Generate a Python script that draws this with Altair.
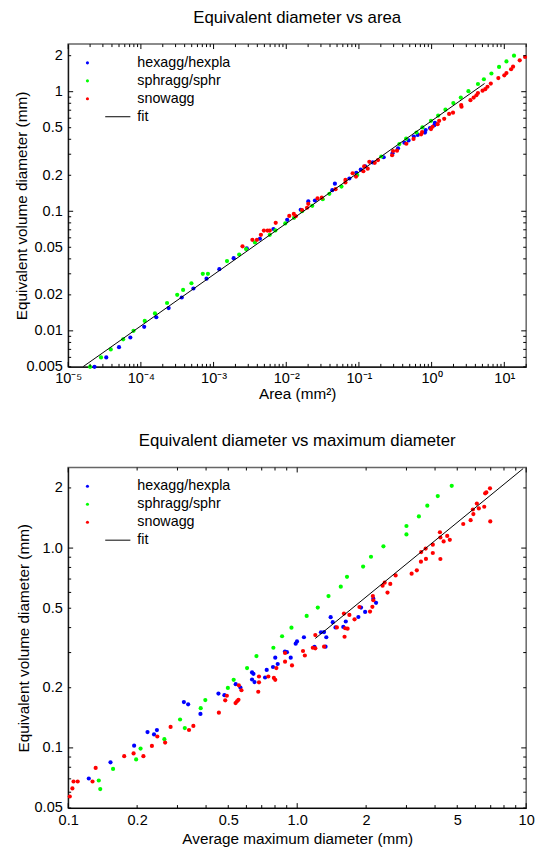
import altair as alt
import pandas as pd

FONT = "Liberation Sans"
SERIES = ["hexagg/hexpla", "sphragg/sphr", "snowagg"]
COLORS = ["#0000ff", "#00ff00", "#ff0000"]

# ---------------- top panel: area (mm^2) -> equivalent volume diameter (mm)
hex_area = [2.30e-5, 3.34e-5, 5.00e-5, 7.16e-5, 1.11e-4, 1.63e-4, 2.41e-4, 3.65e-4, 5.28e-4,
            8.00e-4, 1.20e-3, 1.89e-3, 2.86e-3, 4.34e-3, 6.66e-3, 1.03e-2, 1.58e-2, 2.01e-2,
            2.48e-2, 4.30e-2, 4.67e-2, 7.39e-2, 9.20e-2, 0.106, 0.122, 0.155, 0.219, 0.290,
            0.345, 0.422, 0.482, 0.569, 0.644, 0.81, 0.828, 0.950, 1.09, 1.11]
hex_deq_a = [0.0050, 0.0060, 0.0073, 0.0088, 0.0108, 0.0130, 0.0155, 0.0190, 0.0226,
             0.0273, 0.0328, 0.0405, 0.0490, 0.0589, 0.0711, 0.0848, 0.103, 0.121,
             0.123, 0.150, 0.170, 0.188, 0.210, 0.223, 0.237, 0.256, 0.283, 0.306,
             0.336, 0.374, 0.391, 0.422, 0.435, 0.455, 0.478, 0.497, 0.525, 0.550]
sph_area = [2.0e-5, 2.83e-5, 3.85e-5, 5.70e-5, 7.92e-5, 1.13e-4, 1.56e-4, 2.29e-4, 3.16e-4,
            3.81e-4, 4.96e-4, 7.11e-4, 8.36e-4, 1.53e-3, 2.25e-3, 2.80e-3, 3.71e-3, 5.93e-3,
            7.09e-3, 9.69e-3, 1.28e-2, 1.65e-2, 2.28e-2, 3.18e-2, 3.92e-2, 5.75e-2, 9.49e-2,
            0.203, 0.360, 0.446, 0.619, 0.747, 0.980, 1.23, 1.55, 1.99, 2.52, 3.21, 4.34,
            5.24, 6.65, 8.47, 10.7, 13.6]
sph_deq_a = [0.0050, 0.0060, 0.0070, 0.0085, 0.0100, 0.0121, 0.0140, 0.0171, 0.0200,
             0.0220, 0.0250, 0.0300, 0.0300, 0.0383, 0.0435, 0.0483, 0.0549, 0.0635,
             0.0692, 0.0791, 0.0881, 0.100, 0.111, 0.126, 0.140, 0.161, 0.201,
             0.287, 0.365, 0.405, 0.456, 0.503, 0.571, 0.631, 0.707, 0.803, 0.893, 1.01, 1.16,
             1.27, 1.42, 1.61, 1.79, 2.00]
snow_area = [2.50e-3, 3.42e-3, 3.95e-3, 4.48e-3, 4.92e-3, 5.52e-3, 5.93e-3, 7.16e-3, 1.10e-2,
             1.27e-2, 1.35e-2, 1.65e-2, 1.93e-2, 2.01e-2, 2.69e-2, 3.08e-2, 4.77e-2, 6.52e-2,
             6.52e-2, 8.19e-2, 9.12e-2, 0.115, 0.118, 0.132, 0.139, 0.165, 0.183, 0.286, 0.295,
             0.334, 0.449, 0.564, 0.717, 0.740, 0.980, 1.03, 1.21, 1.27, 1.49, 1.74, 1.97, 2.58,
             2.55, 3.42, 3.79, 4.13, 4.34, 5.02, 5.47, 5.87, 6.52, 8.28, 10.0, 10.7, 12.4, 13.2,
             16.3, 19.3]
snow_deq_a = [0.0509, 0.0577, 0.0577, 0.0635, 0.0689, 0.0689, 0.0689, 0.0801, 0.0915,
              0.0950, 0.0910, 0.1025, 0.107, 0.1155, 0.128, 0.130, 0.153, 0.183,
              0.174, 0.208, 0.195, 0.216, 0.237, 0.227, 0.259, 0.254, 0.268, 0.294, 0.319,
              0.321, 0.367, 0.403, 0.440, 0.460, 0.487, 0.509, 0.535, 0.571, 0.593, 0.652, 0.668, 0.748,
              0.773, 0.850, 0.893, 0.934, 0.975, 1.02, 1.05, 1.10, 1.17, 1.30, 1.37, 1.43, 1.54, 1.62,
              1.83, 1.95]
fit_area = [1.59e-5, 5.35]
fit_deq_a = [0.005, 1.17]

# ---------------- bottom panel: average maximum diameter (mm) -> equivalent volume diameter (mm)
hex_dmax = [0.123, 0.153, 0.194, 0.222, 0.237, 0.244, 0.320, 0.334, 0.378, 0.453, 0.481, 0.539,
            0.565, 0.635, 0.644, 0.635, 0.651, 0.724, 0.736, 0.784, 0.802, 0.822, 0.884, 0.902,
            0.937, 0.985, 0.998, 1.07, 1.19, 1.27, 1.31, 1.34, 1.33, 1.40, 1.43, 1.47, 1.59,
            1.63, 1.85, 1.90, 1.98, 2.15, 2.21]
hex_deq_m = [0.0703, 0.0847, 0.1026, 0.120, 0.1168, 0.1228, 0.1696, 0.1652, 0.148, 0.187, 0.1836, 0.2085,
             0.2005, 0.2387, 0.2347, 0.220, 0.2134, 0.225, 0.2455, 0.254, 0.283, 0.263, 0.3035, 0.3014,
             0.283, 0.3325, 0.341, 0.358, 0.320, 0.379, 0.380, 0.358, 0.321, 0.451, 0.4256, 0.401, 0.403,
             0.429, 0.452, 0.504, 0.479, 0.558, 0.532]
sph_dmax = [0.136, 0.138, 0.157, 0.198, 0.207, 0.263, 0.308, 0.323, 0.379, 0.397, 0.498, 0.528,
            0.604, 0.664, 0.787, 0.859, 0.944, 1.10, 1.23, 1.37, 1.55, 1.65, 1.94, 2.10, 2.38,
            3.00, 3.00, 3.40, 3.70, 4.11, 4.73]
sph_deq_m = [0.0687, 0.0622, 0.0785, 0.0876, 0.0992, 0.1106, 0.1387, 0.1256, 0.158, 0.1735, 0.1995, 0.219,
             0.251, 0.288, 0.317, 0.362, 0.3995, 0.4575, 0.504, 0.575, 0.641, 0.718, 0.808, 0.905, 1.02,
             1.17, 1.29, 1.44, 1.63, 1.82, 2.05]
snow_dmax = [0.1016, 0.1043, 0.1055, 0.110, 0.1277, 0.1318, 0.1756, 0.193, 0.213, 0.232, 0.245, 0.265,
             0.280, 0.337, 0.352, 0.455, 0.485, 0.493, 0.538, 0.546, 0.554, 0.556, 0.571, 0.676,
             0.681, 0.681, 0.748, 0.791, 0.802, 0.811, 0.885, 0.885, 0.949, 1.06, 1.08, 1.17, 1.20,
             1.20, 1.31, 1.49, 1.61, 1.62, 1.66, 1.60, 1.69, 1.78, 1.87, 2.08, 2.13, 2.15, 2.14,
             2.36, 2.41, 2.48, 2.55, 2.69, 3.16, 3.33, 3.47, 3.65, 3.48, 3.64, 3.91, 3.91, 4.22,
             4.22, 4.20, 4.36, 4.52, 4.64, 5.31, 5.72, 5.88, 5.85, 6.09, 6.21, 6.56, 6.97, 6.62,
             6.70, 6.95]
snow_deq_m = [0.0571, 0.0627, 0.0679, 0.0679, 0.0679, 0.0794, 0.0909, 0.0938, 0.0909, 0.1023, 0.114, 0.1063,
              0.1274, 0.1229, 0.1288, 0.150, 0.173, 0.1824, 0.1676, 0.171, 0.174, 0.2056, 0.1943, 0.191,
              0.213, 0.2277, 0.2277, 0.224, 0.219, 0.251, 0.270, 0.2986, 0.2587, 0.3055, 0.290, 0.317, 0.315,
              0.367, 0.321, 0.401, 0.360, 0.397, 0.395, 0.470, 0.463, 0.440, 0.507, 0.481, 0.508, 0.548, 0.575,
              0.648, 0.671, 0.599, 0.662, 0.730, 0.745, 0.774, 0.855, 0.883, 0.955, 0.994, 1.04, 0.945, 0.882,
              1.13, 1.20, 1.08, 1.15, 1.10, 1.32, 1.38, 1.48, 1.56, 1.67, 1.58, 1.61, 1.36, 1.88,
              1.90, 1.99]
fit_dmax = [1.2, 9.7]
fit_deq_m = [0.353, 2.5]

# ---------------- axis labels
AREA_TICKS = [1e-5, 1e-4, 1e-3, 1e-2, 1e-1, 1, 10]
AREA_EXP = ["⁻⁵", "⁻⁴", "⁻³", "⁻²", "⁻¹", "⁰", "¹"]
DEQ_A_TICKS = [0.005, 0.01, 0.02, 0.05, 0.1, 0.2, 0.5, 1, 2]
DMAX_TICKS = [0.1, 0.2, 0.5, 1, 2, 5, 10]
DEQ_M_TICKS = [0.05, 0.1, 0.2, 0.5, 1, 2]

area_expr = "'10' + [" + ",".join("'%s'" % e for e in AREA_EXP) + "][round(log(datum.value)/LN10)+5]"
plain_expr = "format(datum.value, '~g')"
one_expr = "datum.value == 1 ? '1.0' : format(datum.value, '~g')"


def long_df(xs_list, ys_list):
    frames = [pd.DataFrame({"x": xs, "y": ys, "series": name})
              for name, xs, ys in zip(SERIES, xs_list, ys_list)]
    return pd.concat(frames, ignore_index=True)


def log_grid(lo, hi, major, col):
    out = []
    for e in range(-6, 3):
        for m in range(1, 10):
            v = float("%de%d" % (m, e))
            if lo * 0.999999 <= v <= hi * 1.000001 and ((m == 1) == major):
                out.append(v)
    return pd.DataFrame({col: out})


ONE = pd.DataFrame({"k": [0]})


def panel(df, fit_df, xdom, ydom, W, H, xticks, xexpr, yticks, yexpr,
          xtitle, ytitle, title, xlp, xty, ytx):
    xs = alt.Scale(type="log", domain=xdom, nice=False)
    ys = alt.Scale(type="log", domain=ydom, nice=False)
    xaxis = alt.Axis(values=xticks, labelExpr=xexpr, title=xtitle, labelPadding=xlp,
                     titleY=xty, titleBaseline="middle")
    yaxis = alt.Axis(values=yticks, labelExpr=yexpr, title=ytitle, labelPadding=6,
                     titleX=ytx, titleY=H / 2, titleBaseline="middle", titleAngle=270)
    xe = alt.X("x:Q", scale=xs, axis=xaxis, title=xtitle)
    ye = alt.Y("y:Q", scale=ys, axis=yaxis, title=ytitle)
    pts = alt.Chart(df).mark_circle(size=18, opacity=1).encode(
        x=xe, y=ye,
        color=alt.Color("series:N", scale=alt.Scale(domain=SERIES, range=COLORS), legend=None),
    )
    fit = alt.Chart(fit_df).mark_line(color="black", strokeWidth=1, clip=True).encode(x=xe, y=ye)
    layers = [pts, fit]
    for major, L in ((False, 3), (True, 5)):
        xg = log_grid(xdom[0], xdom[1], major, "x")
        yg = log_grid(ydom[0], ydom[1], major, "y")
        rx = alt.Chart(xg).mark_rule(color="black", strokeWidth=1)
        ry = alt.Chart(yg).mark_rule(color="black", strokeWidth=1)
        layers += [
            rx.encode(x=xe, y=alt.value(H), y2=alt.value(H - L)),
            rx.encode(x=xe, y=alt.value(0), y2=alt.value(L)),
            ry.encode(y=ye, x=alt.value(0), x2=alt.value(L)),
            ry.encode(y=ye, x=alt.value(W), x2=alt.value(W - L)),
        ]
    # legend (inside, top-left)
    for i, (name, col) in enumerate(zip(SERIES, COLORS)):
        yy = 19 + 18.2 * i
        layers.append(alt.Chart(ONE).mark_circle(size=10, color=col, opacity=1).encode(
            x=alt.value(19.5), y=alt.value(yy)))
        layers.append(alt.Chart(ONE).mark_text(align="left", baseline="middle", fontSize=14.5,
                                               font=FONT, color="black").encode(
            x=alt.value(70), y=alt.value(yy), text=alt.value(name)))
    yy = 19 + 18.2 * 3
    layers.append(alt.Chart(ONE).mark_rule(color="black", strokeWidth=1).encode(
        x=alt.value(37.5), x2=alt.value(63), y=alt.value(yy)))
    layers.append(alt.Chart(ONE).mark_text(align="left", baseline="middle", fontSize=14.5,
                                           font=FONT, color="black").encode(
        x=alt.value(70), y=alt.value(yy), text=alt.value("fit")))
    return alt.layer(*layers).properties(
        width=W, height=H,
        title=alt.TitleParams(text=title, fontSize=17, font=FONT, fontWeight="normal",
                              offset=0, baseline="bottom", frame="group", anchor="middle",
                              color="black"),
    )


top_df = long_df([hex_area, sph_area, snow_area], [hex_deq_a, sph_deq_a, snow_deq_a])
top_fit = pd.DataFrame({"x": fit_area, "y": fit_deq_a})
bot_df = long_df([hex_dmax, sph_dmax, snow_dmax], [hex_deq_m, sph_deq_m, snow_deq_m])
bot_fit = pd.DataFrame({"x": fit_dmax, "y": fit_deq_m})

top = panel(top_df, top_fit, [1e-5, 20], [0.005, 2.5], 464, 327,
            AREA_TICKS, area_expr, DEQ_A_TICKS, plain_expr,
            "Area (mm²)", "Equivalent volume diameter (mm)", "Equivalent diameter vs area",
            4, 27, -47)
bottom = panel(bot_df, bot_fit, [0.1, 10], [0.05, 2.53], 464, 345,
               DMAX_TICKS, one_expr, DEQ_M_TICKS, one_expr,
               "Average maximum diameter (mm)", "Equivalent volume diameter (mm)",
               "Equivalent diameter vs maximum diameter",
               5, 31, -45)

chart = alt.vconcat(top, bottom, spacing=28).properties(
    padding={"left": 6, "top": -6, "right": 5, "bottom": 2}
).configure_view(
    stroke="#666", strokeWidth=1.5
).configure_axis(
    labelFont=FONT, labelFontSize=14.7, labelColor="black",
    titleFont=FONT, titleFontSize=15.5, titleFontWeight="normal", titleColor="black",
    ticks=False, tickSize=0, grid=False, domain=True, domainColor="black", domainWidth=1,
    labelFlush=False, labelOverlap=False,
)

chart.save("out.html", embed_options={"renderer": "svg", "actions": False})
